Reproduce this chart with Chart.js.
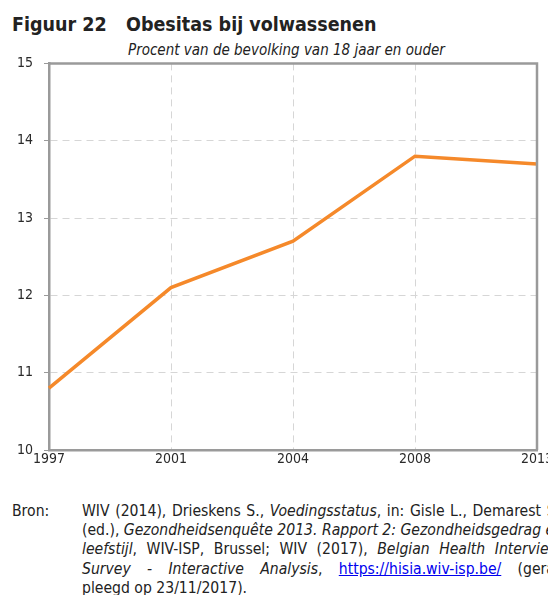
<!DOCTYPE html>
<html>
<head>
<meta charset="utf-8">
<script src="https://cdn.jsdelivr.net/npm/chart.js@4"></script>
<style>
  body { margin: 0; background: #fff; font-family: "DejaVu Sans Condensed", "DejaVu Sans", sans-serif; color: #222; }
  #page { position: relative; width: 548px; height: 595px; overflow: hidden; }
  .t1 { position: absolute; top: 13px; font-weight: bold; font-size: 19.5px; white-space: nowrap; }
  #sub { position: absolute; left: 128px; top: 41px; font-style: italic; font-size: 15px; white-space: nowrap; }
  #chart1 { position: absolute; left: 0; top: 44px; }
  #bron { position: absolute; left: 12px; top: 502px; font-size: 15.6px; line-height: 19.2px; }
  #src { position: absolute; left: 82px; top: 502px; width: 478px; font-size: 15.6px; line-height: 19.2px; }
  #src div { text-align: justify; text-align-last: justify; white-space: nowrap; }
  #src div.last { text-align-last: left; }
  #src a { color: #0000ee; }
</style>
</head>
<body>
<div id="page">
  <div class="t1" style="left:12px">Figuur 22</div>
  <div class="t1" style="left:126px">Obesitas bij volwassenen</div>
  <div id="sub">Procent van de bevolking van 18 jaar en ouder</div>
  <canvas id="chart1" width="562" height="428"></canvas>
  <div id="bron">Bron:</div>
  <div id="src">
    <div>WIV (2014), Drieskens S., <i>Voedingsstatus</i>, in: Gisle L., Demarest S.</div>
    <div>(ed.), <i>Gezondheidsenquête 2013. Rapport 2: Gezondheidsgedrag en</i></div>
    <div><i>leefstijl</i>, WIV-ISP, Brussel; WIV (2017), <i>Belgian Health Interview</i></div>
    <div><i>Survey - Interactive Analysis</i>, <a href="#">https://hisia.wiv-isp.be/</a> (gera-</div>
    <div class="last">pleegd op 23/11/2017).</div>
  </div>
</div>
<script>
const years = ['1997', '2001', '2004', '2008', '2013'];
const obesitas = [10.8, 12.1, 12.7, 13.8, 13.7];
const yMin = 10;
const yMax = 15;

const frameColor = '#9a9a9a';
const tickFont = { family: '"DejaVu Sans Condensed", "DejaVu Sans", sans-serif', size: 14 };

// kader rond het plotgebied (boven en rechts)
const framePlugin = {
    id: 'frame',
    afterDatasetsDraw(chart) {
        const a = chart.chartArea;
        const ctx = chart.ctx;
        ctx.save();
        ctx.strokeStyle = frameColor;
        ctx.lineWidth = 2.5;
        ctx.beginPath();
        ctx.moveTo(a.left, a.top);
        ctx.lineTo(a.right, a.top);
        ctx.lineTo(a.right, a.bottom);
        ctx.stroke();
        ctx.restore();
    }
};

const ctx = document.getElementById('chart1').getContext('2d');
const myChart = new Chart(ctx, {
    type: 'line',
    data: {
        labels: years,
        datasets: [{
            data: obesitas,
            borderColor: '#f5892a',
            borderWidth: 3.5,
            pointRadius: 0,
            tension: 0,
            fill: false
        }]
    },
    options: {
        responsive: false,
        animation: false,
        layout: { padding: { top: 0, right: 25, left: 0, bottom: 0 } },
        plugins: {
            legend: { display: false },
            tooltip: { enabled: false }
        },
        scales: {
            x: {
                offset: false,
                grid: { color: '#d6d6d6', drawTicks: false },
                border: { color: frameColor, width: 2.5, dash: [7, 5] },
                ticks: { color: '#2a2a2a', padding: 1, maxRotation: 0, font: tickFont },
                afterFit: s => { s.height = 22; }
            },
            y: {
                min: yMin,
                max: yMax,
                grid: { color: '#d6d6d6', tickColor: frameColor, tickLength: 5, tickBorderDash: [] },
                border: { color: frameColor, width: 2.5, dash: [7, 5] },
                ticks: { stepSize: 1, color: '#2a2a2a', padding: 11, font: tickFont },
                afterFit: s => { s.width = 49; }
            }
        }
    },
    plugins: [framePlugin]
});
</script>
</body>
</html>
